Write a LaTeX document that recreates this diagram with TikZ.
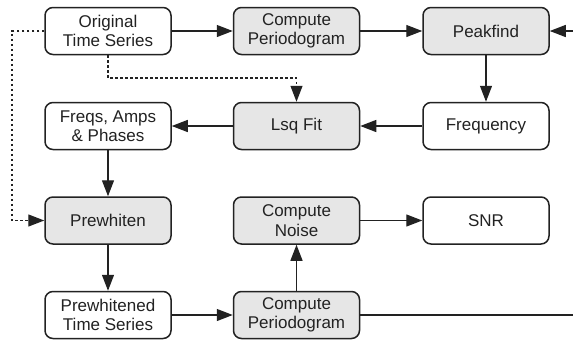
\documentclass[tikz,border=0pt]{standalone}
\usepackage{fontspec}
\setmainfont{Liberation Sans}
\usetikzlibrary{arrows.meta}
\definecolor{boxgray}{HTML}{E6E6E6}
\definecolor{ink}{HTML}{222222}
\begin{document}
\begin{tikzpicture}[x=1pt,y=-1pt,
  box/.style={draw=ink,line width=1.5pt,rounded corners=8pt,minimum width=126pt,minimum height=47pt,align=center,font=\fontsize{17}{19.5}\selectfont,text=ink,inner sep=0pt},
  plain/.style={box,fill=white},
  shade/.style={box,fill=boxgray},
  conn/.style={draw=ink,line width=1.3pt,-{Triangle[length=16pt,width=12pt]}},
  dots/.style={conn,dash pattern=on 2.5pt off 2.5pt}]
\useasboundingbox (0,0) rectangle (573,341);
\node[plain] (orig) at (108,31) {Original\\Time Series};
\node[shade] (cp1) at (296.5,31) {Compute\\Periodogram};
\node[shade] (peak) at (486,31) {Peakfind};
\node[plain] (fap) at (108,126) {Freqs, Amps\\\& Phases};
\node[shade] (lsq) at (296.5,126) {Lsq Fit};
\node[plain] (freq) at (486,126) {Frequency};
\node[shade] (pw) at (108,220.5) {Prewhiten};
\node[shade] (cn) at (296.5,220.5) {Compute\\Noise};
\node[plain] (snr) at (486,220.5) {SNR};
\node[plain] (pts) at (108,315) {Prewhitened\\Time Series};
\node[shade] (cp2) at (296.5,315) {Compute\\Periodogram};
\coordinate (rin) at (575,31);
\coordinate (rout) at (575,315);
\draw[conn] (orig) -- (cp1);
\draw[conn] (cp1) -- (peak);
\draw[conn] (rin) -- (peak);
\draw[conn] (peak) -- (freq);
\draw[conn] (freq) -- (lsq);
\draw[conn] (lsq) -- (fap);
\draw[conn] (fap) -- (pw);
\draw[conn] (pw) -- (pts);
\draw[conn] (pts) -- (cp2);
\draw[conn] (cp2) -- (cn);
\draw[conn] (cn) -- (snr);
\draw[draw=ink,line width=1.3pt] (cp2) -- (rout);
\draw[dots] (orig.west) -- (12,31) -- (12,220.5) -- (pw.west);
\draw[dots] (orig.south) -- (108,78) -- (296.5,78) -- (lsq.north);
\end{tikzpicture}
\end{document}
